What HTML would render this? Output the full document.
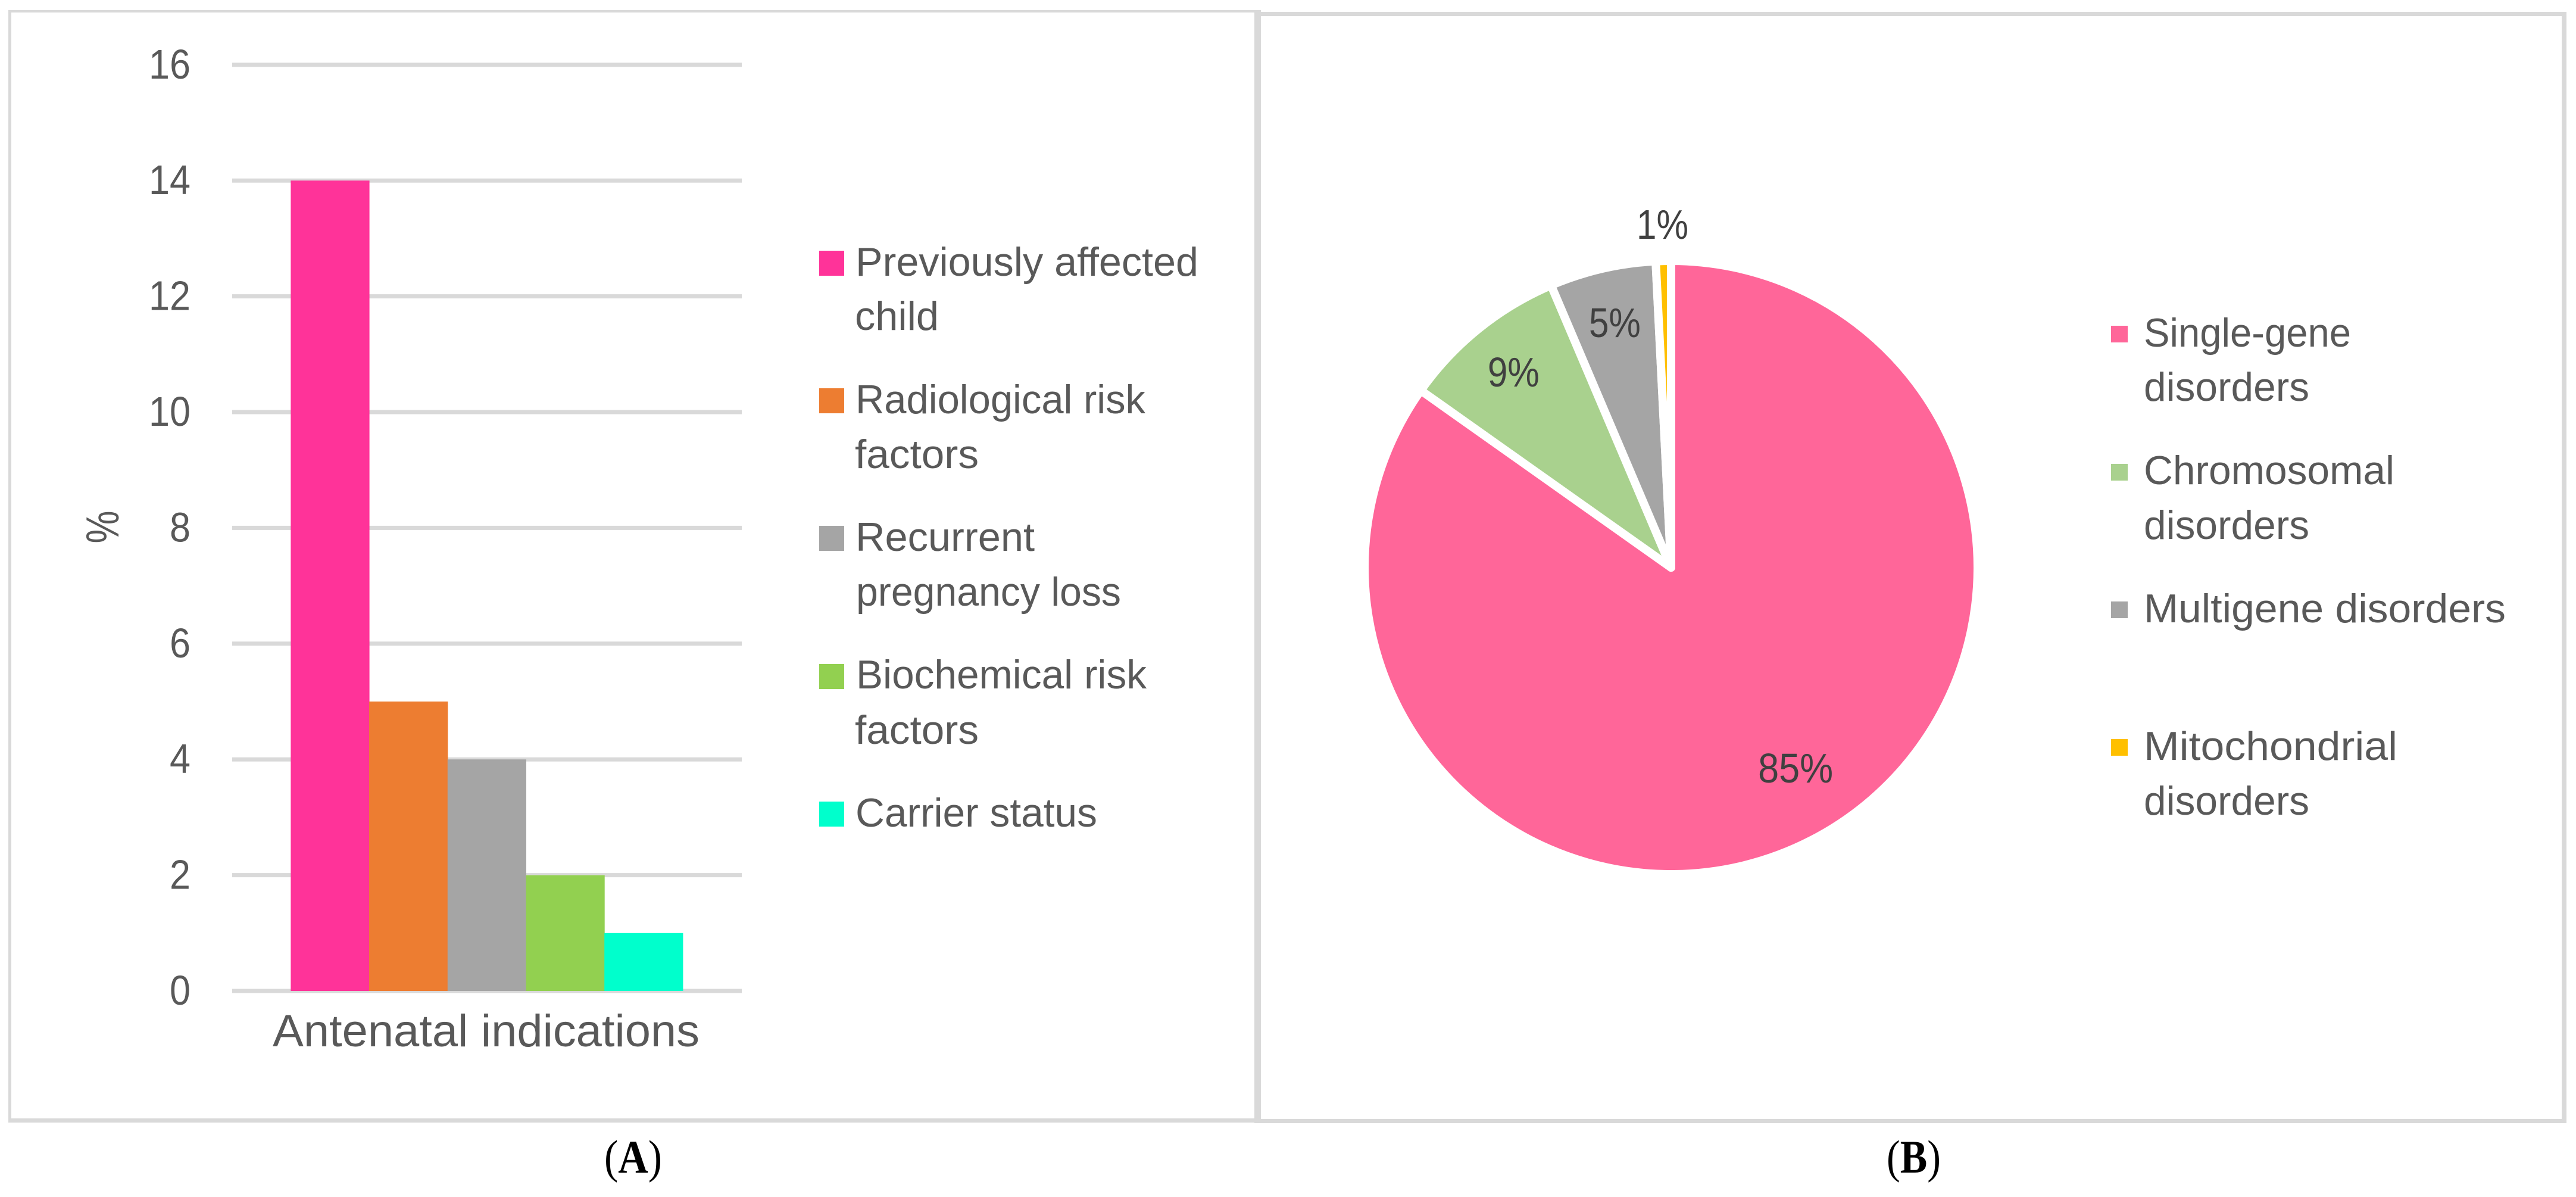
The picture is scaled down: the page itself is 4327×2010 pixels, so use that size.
<!DOCTYPE html>
<html lang="en">
<head>
<meta charset="utf-8">
<title>Antenatal indications and disorder types</title>
<style>
html,body{margin:0;padding:0;background:#fff}
svg{display:block}
text{font-family:"Liberation Sans",sans-serif;fill:#595959}
.leg{font-size:68px}
.cap{font-family:"Liberation Serif",serif;font-size:78px;fill:#000}
</style>
</head>
<body>
<svg id="figure" xmlns="http://www.w3.org/2000/svg" width="4327" height="2010" viewBox="0 0 4327 2010">
  <rect x="0" y="0" width="4327" height="2010" fill="#ffffff"/>

  <g fill="#d9d9d9">
    <rect x="14" y="17" width="2100" height="4"/>
    <rect x="14" y="17" width="5" height="1868"/>
    <rect x="14" y="1878" width="2100" height="7"/>
  </g>
  <g fill="#d9d9d9">
    <rect x="2107" y="20" width="2204" height="7"/>
    <rect x="2107" y="17" width="11" height="1869"/>
    <rect x="4303" y="20" width="8" height="1866"/>
    <rect x="2107" y="1879" width="2204" height="7"/>
  </g>

  <g id="bar-chart"></g>
  <g id="pie-chart"></g>

  <text font-size="78" text-anchor="middle" textLength="55" lengthAdjust="spacingAndGlyphs" transform="translate(199,885) rotate(-90)">%</text>
  <text x="458" y="1757" font-size="76" textLength="717" lengthAdjust="spacingAndGlyphs">Antenatal indications</text>

  <g>
    <g>
      <rect x="1376" y="421" width="42" height="42" fill="#ff3399"/>
      <text class="leg" x="1437" y="463" textLength="576" lengthAdjust="spacingAndGlyphs">Previously affected</text>
      <text class="leg" x="1436" y="554" textLength="141" lengthAdjust="spacingAndGlyphs">child</text>
    </g>
    <g>
      <rect x="1376" y="652" width="42" height="42" fill="#ed7d31"/>
      <text class="leg" x="1437" y="694" textLength="487" lengthAdjust="spacingAndGlyphs">Radiological risk</text>
      <text class="leg" x="1436" y="786" textLength="208" lengthAdjust="spacingAndGlyphs">factors</text>
    </g>
    <g>
      <rect x="1376" y="883" width="42" height="42" fill="#a5a5a5"/>
      <text class="leg" x="1437" y="925" textLength="301" lengthAdjust="spacingAndGlyphs">Recurrent</text>
      <text class="leg" x="1438" y="1017" textLength="445" lengthAdjust="spacingAndGlyphs">pregnancy loss</text>
    </g>
    <g>
      <rect x="1376" y="1115" width="42" height="42" fill="#92d050"/>
      <text class="leg" x="1438" y="1156" textLength="488" lengthAdjust="spacingAndGlyphs">Biochemical risk</text>
      <text class="leg" x="1436" y="1249" textLength="208" lengthAdjust="spacingAndGlyphs">factors</text>
    </g>
    <g>
      <rect x="1376" y="1346" width="42" height="42" fill="#00ffcc"/>
      <text class="leg" x="1437" y="1388" textLength="406" lengthAdjust="spacingAndGlyphs">Carrier status</text>
    </g>
  </g>

  <g>
    <g>
      <rect x="3546" y="547" width="28" height="28" fill="#ff6699"/>
      <text class="leg" x="3601" y="582" textLength="348" lengthAdjust="spacingAndGlyphs">Single-gene</text>
      <text class="leg" x="3601" y="673" textLength="278" lengthAdjust="spacingAndGlyphs">disorders</text>
    </g>
    <g>
      <rect x="3546" y="779" width="28" height="28" fill="#a9d18e"/>
      <text class="leg" x="3601" y="813" textLength="421" lengthAdjust="spacingAndGlyphs">Chromosomal</text>
      <text class="leg" x="3601" y="905" textLength="278" lengthAdjust="spacingAndGlyphs">disorders</text>
    </g>
    <g>
      <rect x="3546" y="1010" width="28" height="28" fill="#a5a5a5"/>
      <text class="leg" x="3601" y="1045" textLength="608" lengthAdjust="spacingAndGlyphs">Multigene disorders</text>
    </g>
    <g>
      <rect x="3546" y="1241" width="28" height="28" fill="#ffc000"/>
      <text class="leg" x="3601" y="1276" textLength="426" lengthAdjust="spacingAndGlyphs">Mitochondrial</text>
      <text class="leg" x="3601" y="1368" textLength="278" lengthAdjust="spacingAndGlyphs">disorders</text>
    </g>
  </g>

  <text class="cap" x="1015" y="1969" textLength="97" lengthAdjust="spacingAndGlyphs">(<tspan font-weight="bold">A</tspan>)</text>
  <text class="cap" x="3169" y="1969" textLength="91" lengthAdjust="spacingAndGlyphs">(<tspan font-weight="bold">B</tspan>)</text>
</svg>

<script>
// Bar chart data
const barSeriesNames = ['Previously affected child', 'Radiological risk factors', 'Recurrent pregnancy loss', 'Biochemical risk factors', 'Carrier status'];
const barValues = [14, 5, 4, 2, 1];
const yTickValues = [0, 2, 4, 6, 8, 10, 12, 14, 16];
const yTickLabels = ['0', '2', '4', '6', '8', '10', '12', '14', '16'];

// Pie chart data
const pieCategories = ['Single-gene disorders', 'Chromosomal disorders', 'Multigene disorders', 'Mitochondrial disorders'];
const pieValues = [84.8, 8.8, 5.6, 0.8];
const pieLabels = ['85%', '9%', '5%', '1%'];

const NS = 'http://www.w3.org/2000/svg';
const barColors = ['#ff3399', '#ed7d31', '#a5a5a5', '#92d050', '#00ffcc'];
const pieColors = ['#ff6699', '#a9d18e', '#a5a5a5', '#ffc000'];

function make(tag, attrs, parent) {
  const el = document.createElementNS(NS, tag);
  Object.keys(attrs).forEach(function (k) { el.setAttribute(k, attrs[k]); });
  parent.appendChild(el);
  return el;
}

function drawBars() {
  const root = document.getElementById('bar-chart');
  const plot = { left: 390, right: 1246, zeroY: 1664, unit: 97.2, barStart: 488.4, barStep: 131.7 };
  const yScale = function (v) { return plot.zeroY - v * plot.unit; };
  const xScale = function (i) { return plot.barStart + i * plot.barStep; };

  yTickValues.forEach(function (v, i) {
    const line = make('rect', { x: plot.left, y: yScale(v) - 3.5, width: plot.right - plot.left, height: 7, fill: '#d9d9d9' }, root);
    
    
    const label = make('text', {
      x: 320, y: yScale(v) + 23, 'font-size': 70, 'text-anchor': 'end',
      textLength: 35 * yTickLabels[i].length, lengthAdjust: 'spacingAndGlyphs'
    }, root);
    
    
    label.textContent = yTickLabels[i];
  });

  barValues.forEach(function (v, i) {
    const bar = make('rect', {
      x: xScale(i), y: yScale(v), width: plot.barStep + 0.5, height: yScale(0) - yScale(v), fill: barColors[i]
    }, root);
    
    
  });
}

function drawPie() {
  const root = document.getElementById('pie-chart');
  const cx = 2807, cy = 953, r = 508, gap = 14;
  const total = pieValues.reduce(function (a, b) { return a + b; }, 0);
  const polar = function (radius, frac) {
    const a = frac * 2 * Math.PI;
    return [cx + radius * Math.sin(a), cy - radius * Math.cos(a)];
  };
  let acc = 0;
  const labelSpecs = [];
  pieValues.forEach(function (v, i) {
    const share = v / total;
    const start = acc, end = acc + share;
    const R = r + gap / 2;
    const p0 = polar(R, start), p1 = polar(R, end);
    const large = share > 0.5 ? 1 : 0;
    const d = 'M' + cx + ' ' + cy + ' L' + p0[0] + ' ' + p0[1] + ' A' + R + ' ' + R + ' 0 ' + large + ' 1 ' + p1[0] + ' ' + p1[1] + ' Z';
    const slice = make('path', { d: d, fill: pieColors[i], stroke: '#ffffff', 'stroke-width': gap, 'stroke-linejoin': 'round' }, root);
    
    
    labelSpecs.push({ share: share, mid: (start + end) / 2, text: pieLabels[i] });
    acc = end;
  });

  labelSpecs.forEach(function (s, i) {
    const factor = s.share > 0.5 ? 0.78 : (s.share < 0.02 ? 1.134 : 0.83);
    const pos = polar(r * factor, s.mid);
    const dx = s.share > 0.5 ? 27 : 0;
    const dy = s.share > 0.5 ? -15 : 0;
    const label = make('text', {
      x: pos[0] + dx, y: pos[1] + dy + 24, 'font-size': 70, 'text-anchor': 'middle',
      textLength: s.text.length === 3 ? 126 : 87, lengthAdjust: 'spacingAndGlyphs', style: 'fill:#404040'
    }, root);
    
    
    label.textContent = s.text;
  });
}

drawBars();
drawPie();
</script>
</body>
</html>
